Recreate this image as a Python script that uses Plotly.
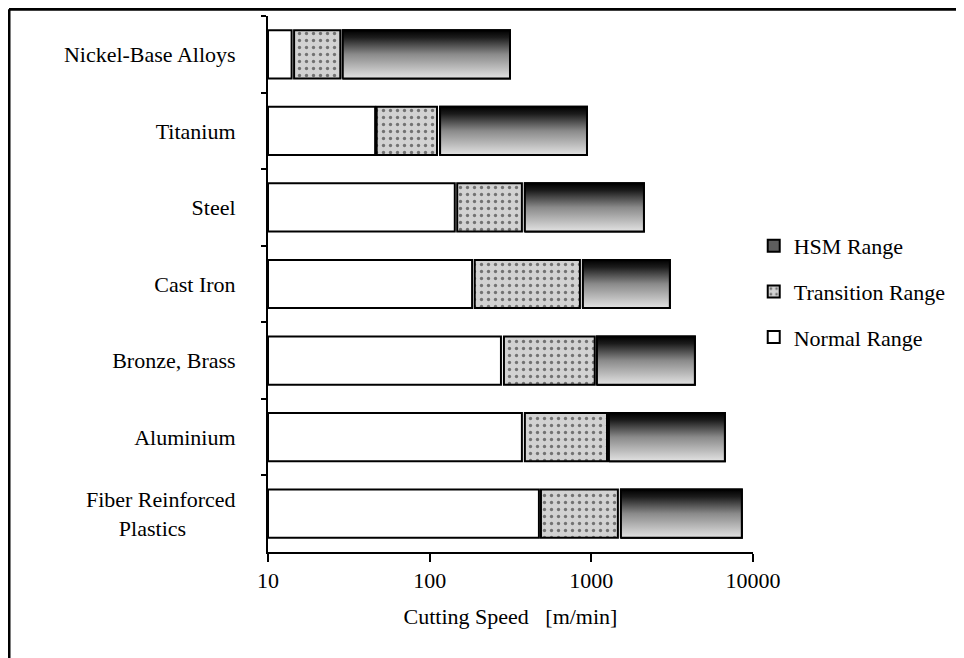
import plotly.graph_objects as go

# ---------------- data ----------------
categories = ["Nickel-Base Alloys", "Titanium", "Steel", "Cast Iron",
              "Bronze, Brass", "Aluminium", "Fiber Reinforced Plastics"]
tick_labels = ["Nickel-Base Alloys", "Titanium", "Steel", "Cast Iron",
               "Bronze, Brass", "Aluminium",
               "Fiber Reinforced<br>Plastics" + "\u00a0" * 9]

normal_start = [10, 10, 10, 10, 10, 10, 10]
normal_end = [14, 46, 143, 183, 276, 372, 474]
transition_start = [14.5, 47, 148, 190, 288, 388, 488]
transition_end = [28, 111, 372, 850, 1050, 1250, 1460]
hsm_start = [29, 116, 388, 887, 1083, 1285, 1524]
hsm_end = [314, 940, 2115, 3060, 4370, 6700, 8530]

x_tick_values = [10, 100, 1000, 10000]
x_tick_labels = ["10", "100", "1000", "10000"]

# ---------------- styling ----------------
FONT = "Liberation Serif"
BAR_W = 0.63
HALF = BAR_W / 2
n = len(categories)
ypos = [n - 1 - i for i in range(n)]  # first category at top

fig = go.Figure()

# HSM range (legend first)
fig.add_trace(go.Bar(
    orientation="h", y=ypos, base=hsm_start,
    x=[e - s for s, e in zip(hsm_start, hsm_end)],
    width=BAR_W, name="HSM Range", legendgroup="hsm",
    marker=dict(color="#5e5e5e", line=dict(color="black", width=2)),
    hoverinfo="skip",
))
# vertical gradient overlay on each HSM bar (black at top -> light grey at bottom)
for p, s, e in zip(ypos, hsm_start, hsm_end):
    fig.add_trace(go.Scatter(
        x=[s, e, e, s, s],
        y=[p - HALF, p - HALF, p + HALF, p + HALF, p - HALF],
        mode="lines", fill="toself",
        fillgradient=dict(type="vertical",
                          colorscale=[[0, "#e2e2e2"], [0.5, "#8a8a8a"],
                                      [0.85, "#1c1c1c"], [1, "#000000"]]),
        line=dict(color="black", width=2),
        showlegend=False, legendgroup="hsm", hoverinfo="skip",
    ))

fig.add_trace(go.Bar(
    orientation="h", y=ypos, base=transition_start,
    x=[e - s for s, e in zip(transition_start, transition_end)],
    width=BAR_W, name="Transition Range", legendgroup="transition",
    marker=dict(color="#cfcfcf", line=dict(color="black", width=2),
                pattern=dict(shape=".", fgcolor="#111111", bgcolor="#d2d2d2",
                             size=7, solidity=0.18)),
    hoverinfo="skip",
))
fig.add_trace(go.Bar(
    orientation="h", y=ypos, base=normal_start,
    x=[e - s for s, e in zip(normal_start, normal_end)],
    width=BAR_W, name="Normal Range", legendgroup="normal",
    marker=dict(color="white", line=dict(color="black", width=2)),
    hoverinfo="skip",
))

fig.update_layout(
    width=956, height=650,
    margin=dict(l=260, r=211, t=8, b=106, autoexpand=False),
    paper_bgcolor="white", plot_bgcolor="white",
    barmode="overlay",
    font=dict(family=FONT, size=22, color="black"),
    showlegend=True,
    legend=dict(
        x=1.0015, xanchor="left", y=0.61, yanchor="top",
        traceorder="grouped", tracegroupgap=14,
        font=dict(family=FONT, size=22, color="black"),
        bgcolor="rgba(0,0,0,0)",
    ),
    xaxis=dict(
        type="log", range=[1, 4],
        tickmode="array", tickvals=x_tick_values, ticktext=x_tick_labels,
        ticks="outside", ticklen=8, tickwidth=2, tickcolor="black",
        showline=True, linewidth=2, linecolor="black",
        showgrid=False, zeroline=False,
        tickfont=dict(family=FONT, size=22),
        title=dict(text="Cutting Speed\u00a0\u00a0\u00a0[m/min]",
                   font=dict(family=FONT, size=22), standoff=16),
    ),
    yaxis=dict(
        range=[-0.5, n - 0.5],
        tickmode="array", tickvals=ypos, ticktext=tick_labels,
        ticks="", ticklabelstandoff=26,
        showline=True, linewidth=2, linecolor="black",
        showgrid=False, zeroline=False,
        tickfont=dict(family=FONT, size=22),
        minor=dict(tickmode="array",
                   tickvals=[i + 0.5 for i in range(n)],
                   ticks="outside", ticklen=5, tickwidth=2, tickcolor="black",
                   showgrid=False),
    ),
    shapes=[
        dict(type="line", xref="paper", yref="paper",
             x0=-0.534, x1=-0.534, y0=-0.3, y1=1.0127,
             line=dict(color="black", width=3)),
        dict(type="line", xref="paper", yref="paper",
             x0=-0.534, x1=1.44, y0=1.0127, y1=1.0127,
             line=dict(color="black", width=3)),
    ],
)

fig.write_html("out.html")
